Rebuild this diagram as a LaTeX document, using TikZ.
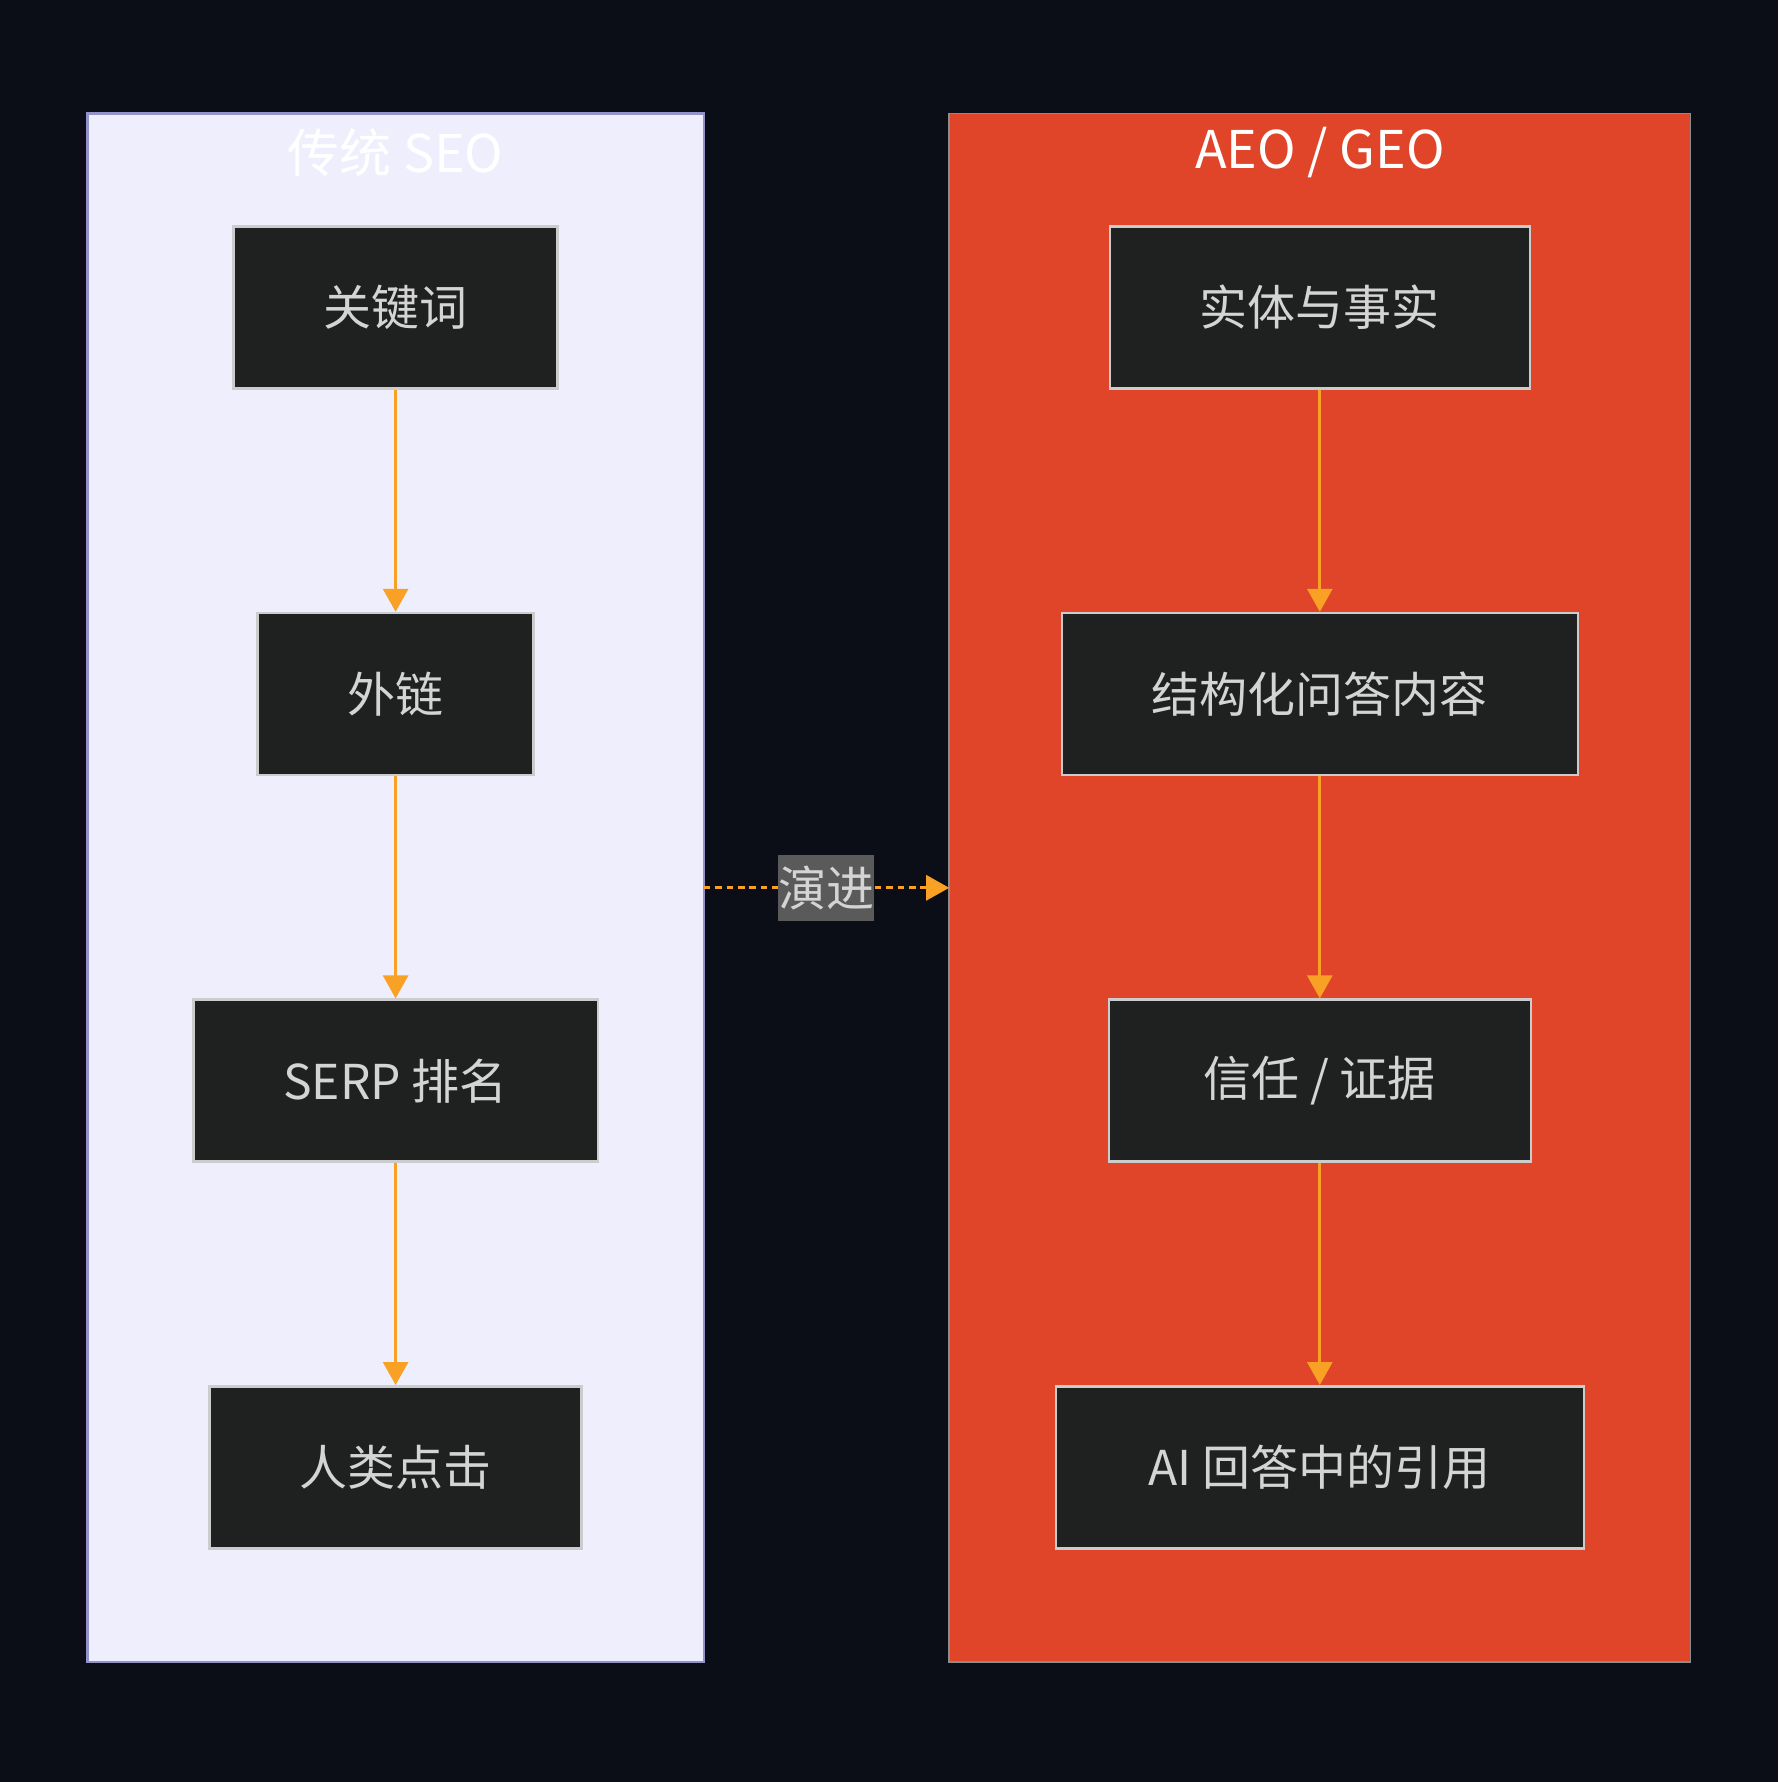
\documentclass[tikz,border=0pt]{standalone}
\usepackage{fontspec}
\setmainfont{Noto Sans CJK SC}
\usepackage{xcolor}
\usetikzlibrary{positioning,arrows.meta}
\definecolor{canvas}{RGB}{11,13,23}
\definecolor{seo_fill}{RGB}{239,238,253}
\definecolor{seo_line}{RGB}{147,147,201}
\definecolor{geo_fill}{RGB}{224,68,41}
\definecolor{geo_line}{RGB}{140,140,140}
\definecolor{stage_fill}{RGB}{31,32,32}
\definecolor{stage_line}{RGB}{204,204,204}
\definecolor{stage_text}{RGB}{212,212,212}
\definecolor{flow}{RGB}{249,161,37}
\definecolor{tag_fill}{RGB}{90,90,90}

\begin{document}
\begin{tikzpicture}[
    x=1pt, y=1pt,
    node distance=111pt,
    lane/.style={draw, inner sep=0pt, outer sep=0pt, minimum height=774.15pt},
    lanetitle/.style={text=white, font=\fontsize{26}{26}\selectfont},
    stage/.style={draw=stage_line, line width=1.3pt, fill=stage_fill, text=stage_text,
        minimum height=81pt, inner xsep=45pt, font=\fontsize{24}{24}\selectfont},
    link/.style={draw=flow, line width=1.5pt, -{Triangle[width=12.5pt,length=11.5pt]}},
    evolve/.style={draw=flow, line width=1.6pt, dash pattern=on 3.3pt off 2.4pt,
        -{Triangle[width=12.5pt,length=11.5pt]}}
    ]
    \fill[canvas] (0,0) rectangle (889,-891);

    % the two lanes
    \node[lane, draw=seo_line, fill=seo_fill, line width=1.2pt, minimum width=308.1pt] (seo) at (197.8,-443.9) {};
    \node[lane, draw=geo_line, fill=geo_fill, line width=0.8pt, minimum width=370.6pt] (geo) at (659.9,-443.9) {};
    \node[lanetitle] (seo_title) at (197.8,-76.5) {传统 SEO};
    \node[lanetitle] (geo_title) at (659.9,-76.5) {AEO / GEO};

    % traditional SEO
    \node[stage] (keyword) at (197.8,-153.75) {关键词};
    \node[stage, below=of keyword] (backlink) {外链};
    \node[stage, below=of backlink] (serp) {SERP 排名};
    \node[stage, below=of serp] (click) {人类点击};

    % AEO / GEO
    \node[stage] (entity) at (659.9,-153.75) {实体与事实};
    \node[stage, below=of entity] (qa) {结构化问答内容};
    \node[stage, below=of qa, minimum width=211pt] (trust) {信任 / 证据};
    \node[stage, below=of trust, minimum width=264pt] (cite) {AI 回答中的引用};

    \draw[link] (keyword) -- (backlink);
    \draw[link] (backlink) -- (serp);
    \draw[link] (serp) -- (click);
    \draw[link] (entity) -- (qa);
    \draw[link] (qa) -- (trust);
    \draw[link] (trust) -- (cite);

    \draw[evolve] (seo) -- node[fill=tag_fill, text=stage_text, inner xsep=0pt, inner ysep=5.5pt,
        font=\fontsize{24}{24}\selectfont] (evolve_tag) {演进} (geo);
\end{tikzpicture}
\end{document}
